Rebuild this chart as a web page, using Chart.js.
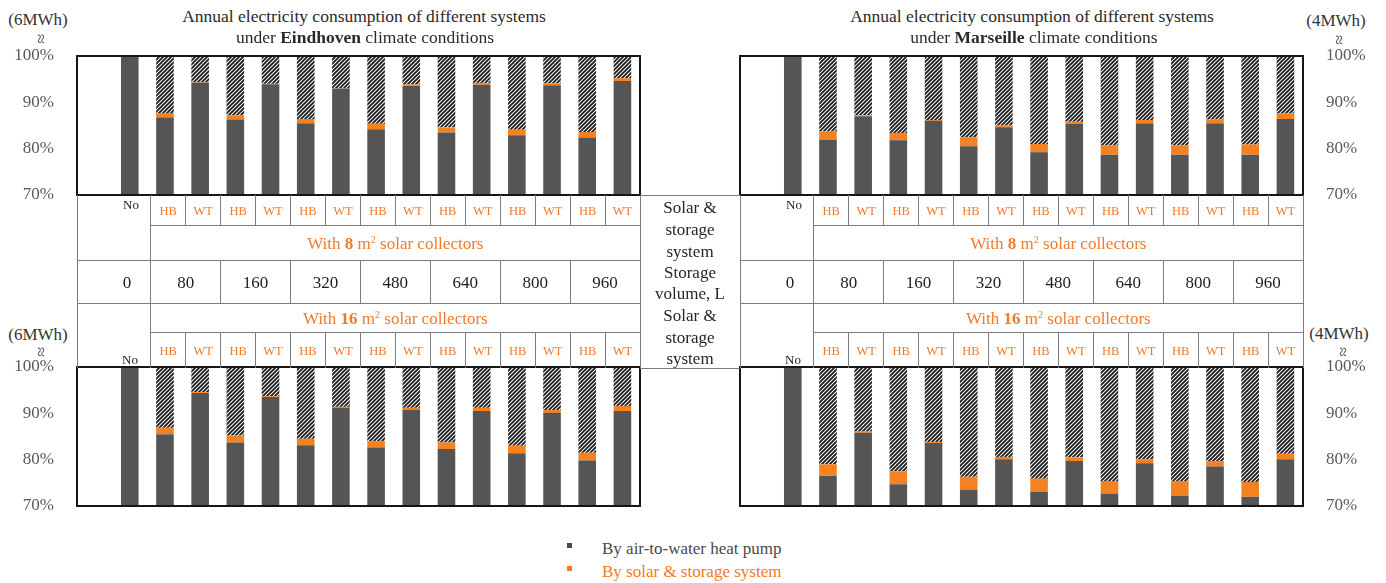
<!DOCTYPE html>
<html>
<head>
<meta charset="utf-8">
<title>Annual electricity consumption of different systems</title>
<script src="https://cdn.jsdelivr.net/npm/chart.js@4.4.1/dist/chart.umd.min.js"></script>
<style>
  html, body { margin: 0; padding: 0; background: #fff; }
  #page { position: relative; width: 1386px; height: 583px; overflow: hidden;
          font-family: "Liberation Serif", "Times New Roman", serif; color: #262626; }
  canvas { position: absolute; }
  .t { position: absolute; white-space: nowrap; transform: translate(-50%, -50%); line-height: 1; }
  .ln { position: absolute; background: #7c7c7c; }
  .orange { color: #f07a2a; }
  .sys { font-size: 12.5px; }
  .big { font-size: 17px; }
  .brk { position: absolute; font-size: 18px; color: #4a4a4a; transform: translate(-50%, -50%) rotate(90deg); line-height: 1; }
  sup { font-size: 10px; vertical-align: 6px; line-height: 0; }
</style>
</head>
<body>
<div id="page">
  <canvas id="cE8" width="645" height="171" style="left:0px;top:40px"></canvas>
  <canvas id="cM8" width="651" height="171" style="left:735px;top:40px"></canvas>
  <canvas id="cE16" width="645" height="171" style="left:0px;top:351px"></canvas>
  <canvas id="cM16" width="651" height="171" style="left:735px;top:351px"></canvas>
</div>
<script>
// ---- data ----
// category slots along each x axis: an empty slot, the reference case, then HB / WT pairs
const slotLabels = ['', 'No', 'HB', 'WT', 'HB', 'WT', 'HB', 'WT', 'HB', 'WT', 'HB', 'WT', 'HB', 'WT', 'HB', 'WT'];
const storageVolumes = [0, 80, 160, 320, 480, 640, 800, 960];
const yTicks = [70, 80, 90, 100];

// share of the reference consumption (%) covered by the air-to-water heat pump
const eindhoven8HeatPump  = [100, 86.7, 94.3, 86.3, 93.9, 85.5, 93.0, 84.2, 93.6, 83.5, 93.8, 82.9, 93.7, 82.4, 94.6];
// extra share (%) consumed by the solar & storage system
const eindhoven8Solar     = [0, 1.0, 0.1, 0.9, 0.1, 0.9, 0.1, 1.2, 0.3, 1.1, 0.4, 1.2, 0.4, 1.2, 0.6];

const marseille8HeatPump  = [100, 81.9, 87.0, 81.8, 86.0, 80.5, 84.6, 79.2, 85.3, 78.7, 85.5, 78.7, 85.5, 78.7, 86.4];
const marseille8Solar     = [0, 1.8, 0.2, 1.6, 0.2, 2.0, 0.4, 1.8, 0.5, 2.0, 0.7, 2.0, 0.8, 2.2, 1.2];

const eindhoven16HeatPump = [100, 85.5, 94.4, 83.7, 93.5, 83.1, 91.2, 82.6, 90.7, 82.3, 90.5, 81.4, 90.1, 79.8, 90.5];
const eindhoven16Solar    = [0, 1.4, 0.2, 1.5, 0.2, 1.4, 0.2, 1.4, 0.5, 1.4, 0.7, 1.6, 0.6, 1.7, 1.1];

const marseille16HeatPump = [100, 76.5, 85.8, 74.7, 83.6, 73.5, 80.1, 73.0, 79.7, 72.7, 79.2, 72.2, 78.5, 72.0, 80.1];
const marseille16Solar    = [0, 2.5, 0.3, 2.8, 0.2, 2.8, 0.5, 2.9, 0.8, 2.7, 0.9, 3.2, 1.2, 3.2, 1.2];

// ---- styling ----
const DARK = '#555555';
const ORANGE = '#f58220';
const SERIF = '"Liberation Serif", "Times New Roman", serif';

function makeHatch(ctx) {
  const tile = document.createElement('canvas');
  tile.width = 4; tile.height = 4;
  const g = tile.getContext('2d');
  g.fillStyle = '#ffffff';
  g.fillRect(0, 0, 4, 4);
  g.strokeStyle = '#1e1e1e';
  g.lineWidth = 1.9;
  g.beginPath();
  g.moveTo(-1, 5); g.lineTo(5, -1);
  g.moveTo(-1, 1); g.lineTo(1, -1);
  g.moveTo(3, 5); g.lineTo(5, 3);
  g.stroke();
  return ctx.createPattern(tile, 'repeat');
}

// black box around the plotting area
const framePlugin = {
  id: 'frame',
  afterDatasetsDraw(chart) {
    const { ctx, chartArea: a } = chart;
    ctx.save();
    ctx.strokeStyle = '#161616';
    ctx.lineWidth = 2;
    ctx.strokeRect(a.left, a.top, a.right - a.left, a.bottom - a.top);
    ctx.restore();
  }
};

function buildChart(id, heatPump, solar, side) {
  const ctx = document.getElementById(id).getContext('2d');
  const saved = heatPump.map((h, i) => +(100 - h - solar[i]).toFixed(2));
  const axisWidth = side === 'left' ? 77 : 83;
  return new Chart(ctx, {
    type: 'bar',
    data: {
      labels: slotLabels,
      datasets: [
        { label: 'By air-to-water heat pump', data: [null, ...heatPump], backgroundColor: DARK },
        { label: 'By solar & storage system', data: [null, ...solar], backgroundColor: ORANGE },
        { label: 'Saved', data: [null, ...saved], backgroundColor: makeHatch(ctx) }
      ]
    },
    options: {
      responsive: false,
      maintainAspectRatio: false,
      animation: false,
      events: [],
      layout: { padding: side === 'left' ? { top: 16, bottom: 16, left: 0, right: 5 }
                                         : { top: 16, bottom: 16, left: 5, right: 0 } },
      datasets: { bar: { categoryPercentage: 1, barPercentage: 0.5, borderWidth: 0 } },
      plugins: { legend: { display: false }, tooltip: { enabled: false } },
      scales: {
        x: { stacked: true, display: false },
        y: {
          stacked: true,
          position: side,
          min: yTicks[0],
          max: yTicks[yTicks.length - 1],
          grid: { display: false },
          border: { display: false },
          afterFit(scale) {
            scale.width = axisWidth;
            scale.paddingTop = 0;
            scale.paddingBottom = 0;
          },
          afterBuildTicks(scale) { scale.ticks = yTicks.map(v => ({ value: v })); },
          ticks: {
            padding: 15,
            color: '#595959',
            font: { family: SERIF, size: 17 },
            callback: v => v + '%'
          }
        }
      }
    },
    plugins: [framePlugin]
  });
}

buildChart('cE8', eindhoven8HeatPump, eindhoven8Solar, 'left');
buildChart('cM8', marseille8HeatPump, marseille8Solar, 'right');
buildChart('cE16', eindhoven16HeatPump, eindhoven16Solar, 'left');
buildChart('cM16', marseille16HeatPump, marseille16Solar, 'right');

// ---- titles, unit labels, table and legend ----
const page = document.getElementById('page');

function text(x, y, html, cls, style) {
  const el = document.createElement('div');
  el.className = 't ' + (cls || '');
  el.style.left = x + 'px';
  el.style.top = y + 'px';
  if (style) Object.assign(el.style, style);
  el.innerHTML = html;
  page.appendChild(el);
  return el;
}
function hline(x1, x2, y, color, w) {
  const el = document.createElement('div');
  el.className = 'ln';
  w = w || 1;
  Object.assign(el.style, { left: x1 + 'px', top: (y - w / 2) + 'px', width: (x2 - x1) + 'px', height: w + 'px' });
  if (color) el.style.background = color;
  page.appendChild(el);
}
function vline(x, y1, y2, color, w) {
  const el = document.createElement('div');
  el.className = 'ln';
  w = w || 1;
  Object.assign(el.style, { left: (x - w / 2) + 'px', top: y1 + 'px', width: w + 'px', height: (y2 - y1) + 'px' });
  if (color) el.style.background = color;
  page.appendChild(el);
}
function breakMark(x, y) {
  const el = document.createElement('div');
  el.className = 'brk';
  el.style.left = x + 'px';
  el.style.top = y + 'px';
  el.textContent = '≈';
  page.appendChild(el);
}

// titles
const titleStyle = { fontSize: '17.5px', color: '#2a2a2a' };
text(364, 17, 'Annual electricity consumption of different systems', '', titleStyle);
text(365, 38, 'under <b>Eindhoven</b> climate conditions', '', titleStyle);
text(1032, 17, 'Annual electricity consumption of different systems', '', titleStyle);
text(1034, 38, 'under <b>Marseille</b> climate conditions', '', titleStyle);

// energy basis of the 100% mark
const unitStyle = { fontSize: '17px', color: '#333' };
text(38, 19, '(6MWh)', '', unitStyle);   breakMark(41, 39);
text(1336, 20, '(4MWh)', '', unitStyle); breakMark(1339, 40);
text(38, 334, '(6MWh)', '', unitStyle);  breakMark(41, 352);
text(1339, 333, '(4MWh)', '', unitStyle); breakMark(1343, 352);

// table rows
const rows = [195, 225, 260, 303, 332, 368];
function buildTable(x0) {
  const x1 = x0 + 563;
  const noEdge = x0 + 73.7;
  const cellW = (x1 - noEdge) / 14;
  vline(x0, rows[0], rows[5]);
  vline(noEdge, rows[0], rows[5]);
  vline(x1, rows[0], rows[5]);
  for (let n = 1; n < 14; n++) {
    vline(noEdge + n * cellW, rows[0], rows[1]);
    vline(noEdge + n * cellW, rows[4], rows[5]);
  }
  for (let n = 1; n < 7; n++) vline(noEdge + 2 * n * cellW, rows[2], rows[3]);
  hline(noEdge, x1, rows[1]);
  hline(x0, x1, rows[2]);
  hline(x0, x1, rows[3]);
  hline(noEdge, x1, rows[4]);

  text(x0 + 54, 204, slotLabels[1], '', { fontSize: '13px', color: '#222' });
  text(x0 + 53, 359, slotLabels[1], '', { fontSize: '13px', color: '#222' });
  for (let n = 0; n < 14; n++) {
    const cx = noEdge + (n + 0.5) * cellW;
    text(cx, 211, slotLabels[n + 2], 'orange sys');
    text(cx, 351, slotLabels[n + 2], 'orange sys');
  }
  const mid = (noEdge + x1) / 2;
  text(mid, 243, 'With <b>8</b> m<sup>2</sup> solar collectors', 'orange big');
  text(mid, 318, 'With <b>16</b> m<sup>2</sup> solar collectors', 'orange big');
  text(x0 + 50, 282, String(storageVolumes[0]), 'big', { color: '#1e1e1e' });
  for (let n = 1; n < storageVolumes.length; n++) {
    text(noEdge + (2 * n - 1) * cellW, 282, String(storageVolumes[n]), 'big', { color: '#1e1e1e' });
  }
}
buildTable(77);
buildTable(740);

// middle column between the two tables
hline(640, 740, rows[0]);
hline(640, 740, rows[5]);
const midStyle = { color: '#262626' };
[['Solar &', 207], ['storage', 229], ['system', 251],
 ['Storage', 272], ['volume, L', 293],
 ['Solar &', 315], ['storage', 337], ['system', 358]].forEach(([s, y]) => text(690, y, s, 'big', midStyle));

// legend
function legendItem(y, color, label) {
  const sq = document.createElement('div');
  Object.assign(sq.style, { position: 'absolute', left: '567px', top: (y - 3) + 'px', width: '5px', height: '5px', background: color });
  page.appendChild(sq);
  return text(602, y + 2, label, 'big', { color: color, transform: 'translate(0, -50%)' });
}
legendItem(546, '#4a4a4a', 'By air-to-water heat pump');
legendItem(569, '#f47a22', 'By solar &amp; storage system');
</script>
</body>
</html>
